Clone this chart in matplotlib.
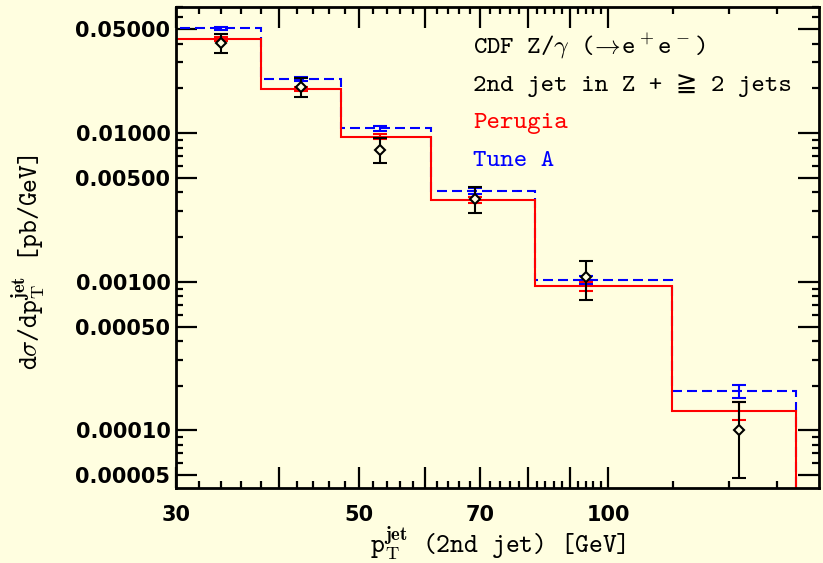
import matplotlib

matplotlib.use("Agg")

import matplotlib.pyplot as plt
from matplotlib.ticker import FixedLocator, FixedFormatter, NullFormatter

BG = "#FFFEE0"
RED = "#FF0000"
BLUE = "#0000FF"
INK = "#000000"
TT = ["cmtt10", "DejaVu Sans"]

plt.rcParams["mathtext.fontset"] = "cm"
plt.rcParams["axes.unicode_minus"] = False

# bin edges in GeV
edges = [30, 38, 47.5, 61, 81.5, 119.5, 169]

# CDF data points
x_data = [34.0, 42.5, 53.0, 69.0, 94.0, 144.0]
data = [0.0406, 0.0203, 0.00768, 0.00359, 0.00107, 0.000101]
data_hi = [0.0462, 0.0236, 0.0092, 0.00435, 0.00138, 0.000155]
data_lo = [0.0347, 0.0174, 0.00625, 0.00288, 0.00075, 0.0000481]

# MC predictions
perugia = [0.0430, 0.0197, 0.00944, 0.00354, 0.000933, 0.000136]
perugia_err = [0.00116, 0.0006, 0.00037, 0.00017, 0.000067, 0.0000186]
tune_a = [0.0507, 0.0231, 0.01075, 0.00407, 0.001035, 0.000184]
tune_a_err = [0.0012, 0.00062, 0.00039, 0.00019, 0.000063, 0.0000185]

y_major = [0.00005, 0.0001, 0.0005, 0.001, 0.005, 0.01, 0.05]
y_major_labels = ["0.00005", "0.00010", "0.00050", "0.00100", "0.00500", "0.01000", "0.05000"]
x_major = [30, 40, 50, 60, 70, 80, 90, 100]
x_major_labels = ["30", "", "50", "", "70", "", "", "100"]


def main():
    fig = plt.figure(figsize=(8.23, 5.63), dpi=100, facecolor=BG)
    ax = fig.add_axes([176 / 823, 75 / 563, 643 / 823, 481 / 563], facecolor=BG)
    ax.set_xscale("log")
    ax.set_yscale("log")
    ax.set_xlim(30, 180)
    ax.set_ylim(4.1e-5, 0.0705)

    # histograms, dropping to the floor at the last edge
    ax.stairs(tune_a, edges, baseline=1e-6, color=BLUE, lw=1.5, linestyle=(0, (4.8, 2.4)), zorder=3)
    ax.stairs(perugia, edges, baseline=1e-6, color=RED, lw=1.5, zorder=4)

    ax.errorbar(x_data, tune_a, yerr=tune_a_err, fmt="none", ecolor=BLUE, elinewidth=1.5, capsize=5, capthick=1.5, zorder=5)
    ax.errorbar(x_data, perugia, yerr=perugia_err, fmt="none", ecolor=RED, elinewidth=1.5, capsize=5, capthick=1.5, zorder=5)
    yerr = [[d - lo for d, lo in zip(data, data_lo)], [hi - d for d, hi in zip(data, data_hi)]]
    ax.errorbar(
        x_data, data, yerr=yerr, fmt="D", color=INK, ms=5.5, mfc=BG, mec=INK, mew=1.5,
        elinewidth=1.5, capsize=5, capthick=1.5, zorder=6,
    )

    # ticks
    ax.xaxis.set_major_locator(FixedLocator(x_major))
    ax.xaxis.set_major_formatter(FixedFormatter(x_major_labels))
    x_minor = [v for v in range(32, 100, 2) if v % 10] + [120, 140, 160]
    ax.xaxis.set_minor_locator(FixedLocator(x_minor))
    ax.xaxis.set_minor_formatter(NullFormatter())
    ax.yaxis.set_major_locator(FixedLocator(y_major))
    ax.yaxis.set_major_formatter(FixedFormatter(y_major_labels))
    y_minor = [m * 10.0 ** e for e in range(-5, -1) for m in (2, 3, 4, 6, 7, 8, 9)]
    ax.yaxis.set_minor_locator(FixedLocator(y_minor))
    ax.yaxis.set_minor_formatter(NullFormatter())

    ax.tick_params(which="both", direction="in", top=True, right=True, width=1.6, color=INK)
    ax.tick_params(which="major", length=15)
    ax.tick_params(which="minor", length=5)
    ax.tick_params(axis="x", which="major", pad=12)
    ax.tick_params(axis="y", which="major", pad=4)
    for lab in ax.get_xticklabels() + ax.get_yticklabels():
        lab.set_fontsize(15)
        lab.set_fontweight("bold")
        lab.set_family("DejaVu Sans")
    for sp in ax.spines.values():
        sp.set_linewidth(2.0)
        sp.set_zorder(10)

    ax.set_xlabel(r"p$_\mathrm{T}^\mathbf{jet}$ (2nd jet) [GeV]", fontsize=19, family=TT, labelpad=-0.5)
    ax.set_ylabel(r"d$\sigma$/dp$_\mathrm{T}^\mathbf{jet}$ [pb/GeV]", fontsize=19, family=TT)
    ax.yaxis.set_label_coords(-0.199, 0.47)

    tx = 0.462
    fs = 18.5
    ax.text(tx, 0.903, r"CDF Z/$\gamma$ ($\!\rightarrow\!$e$^+$e$^-$)", transform=ax.transAxes, fontsize=fs, family=TT, va="baseline")
    ax.text(tx, 0.826, "2nd jet in Z + \u2267 2 jets", transform=ax.transAxes, fontsize=fs, family=TT, va="baseline")
    ax.text(tx, 0.748, "Perugia", transform=ax.transAxes, fontsize=fs, family=TT, va="baseline", color=RED)
    ax.text(tx, 0.670, "Tune A", transform=ax.transAxes, fontsize=fs, family=TT, va="baseline", color=BLUE)

    fig.savefig("out.png", dpi=100, facecolor=BG)
    plt.close(fig)


if __name__ == "__main__":
    main()
